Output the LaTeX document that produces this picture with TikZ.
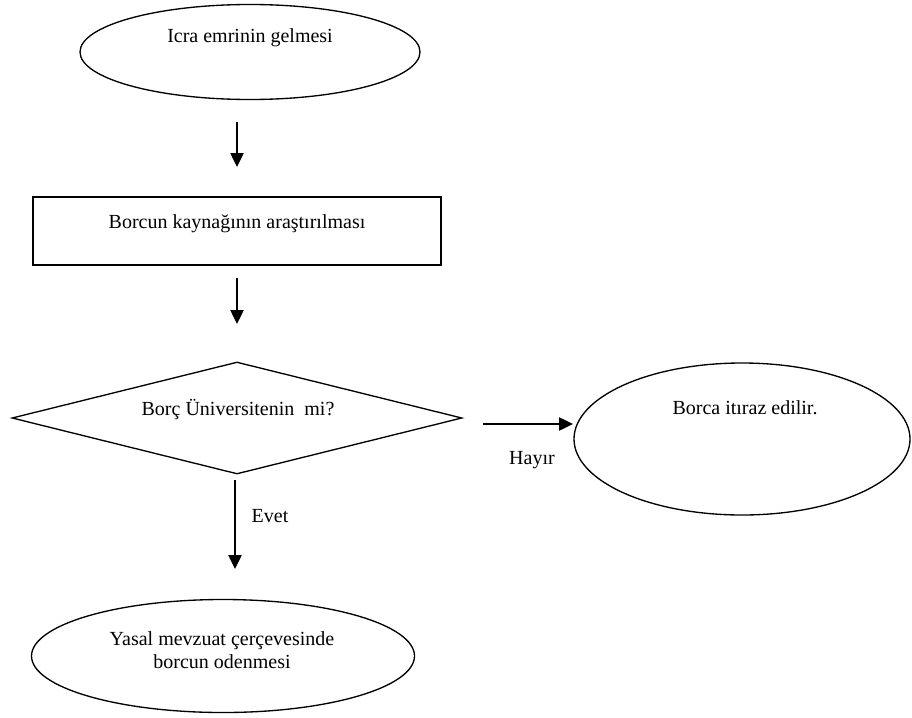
\documentclass[tikz,border=0pt]{standalone}
\usepackage{fontspec}
\setmainfont{Liberation Serif}
\usetikzlibrary{shapes}
\usetikzlibrary{arrows.meta}

\begin{document}
\begin{tikzpicture}[x=0.75pt,y=0.75pt,yscale=-1,xscale=1,
  flowtext/.style={inner sep=0.75pt,align=center,font=\fontsize{15}{17}\selectfont},
  flowshape/.style={draw,line width=1pt,inner sep=0pt},
  flowarrow/.style={line width=1pt,-{Triangle[length=10.5pt,width=10pt]}}]
\path[use as bounding box] (0,0) rectangle (912,717);

%Shape: Ellipse [start]
\node (start) [flowshape,ellipse,minimum width=255pt,minimum height=71.25pt] at (250,52) {};
%Shape: Rectangle [source]
\node (source) [flowshape,rectangle,minimum width=306pt,minimum height=51pt] at (237,231) {};
%Shape: Diamond [check]
\node (check) [flowshape,diamond,minimum width=337.5pt,minimum height=84pt] at (237,418) {};
%Shape: Ellipse [objection]
\node (objection) [flowshape,ellipse,minimum width=252pt,minimum height=114pt] at (742,439) {};
%Shape: Ellipse [payment]
\node (payment) [flowshape,ellipse,minimum width=287.25pt,minimum height=84.75pt] at (223,656) {};

%Arrow ends
\coordinate (a1s) at (237,122);
\coordinate (a1e) at (237,167);
\coordinate (a2s) at (237,278);
\coordinate (a2e) at (237,324);
\coordinate (a3s) at (483,424);
\coordinate (a3e) at (573,424);
\coordinate (a4s) at (235,480);
\coordinate (a4e) at (235,569);

%Straight Lines
\draw [flowarrow] (a1s) -- (a1e) ;
%Straight Lines
\draw [flowarrow] (a2s) -- (a2e) ;
%Straight Lines
\draw [flowarrow] (a3s) -- (a3e) ;
%Straight Lines
\draw [flowarrow] (a4s) -- (a4e) ;

% Text Node
\node (starttext) [flowtext] at (250,38) {Icra emrinin gelmesi};
% Text Node
\node (sourcetext) [flowtext] at (237,224) {Borcun kaynağının araştırılması};
% Text Node
\node (checktext) [flowtext] at (238,410) {Borç Üniversitenin\ \ mi?};
% Text Node
\node (objectiontext) [flowtext] at (745,408) {Borca itıraz edilir.};
% Text Node
\node (paymenttext) [flowtext] at (222,650) {Yasal mevzuat çerçevesinde\\borcun odenmesi};
% Text Node
\node (no) [flowtext] at (532,460) {Hayır};
% Text Node
\node (yes) [flowtext] at (270,516) {Evet};

\end{tikzpicture}
\end{document}
